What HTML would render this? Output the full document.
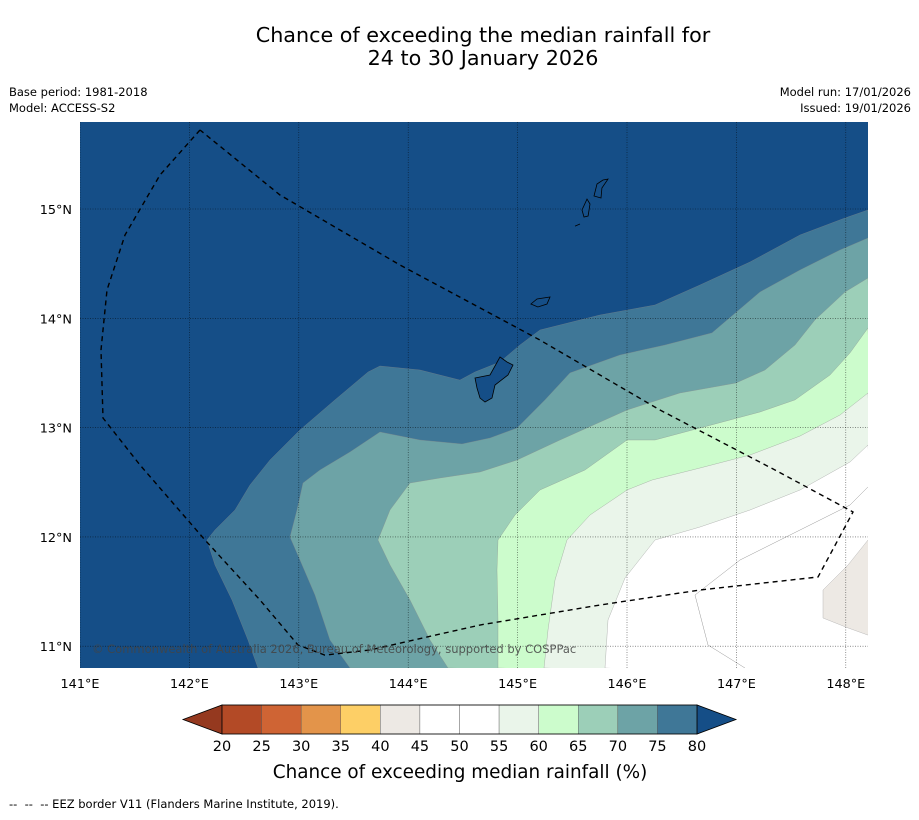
<!DOCTYPE html>
<html><head><meta charset="utf-8"><style>
body{margin:0;background:#fff;font-family:"DejaVu Sans","Liberation Sans",sans-serif}
svg text{font-family:"DejaVu Sans","Liberation Sans",sans-serif}
</style></head><body>
<svg id="c" width="919" height="816" xmlns="http://www.w3.org/2000/svg">
<text x="483" y="42" font-size="20.7" text-anchor="middle">Chance of exceeding the median rainfall for</text>
<text x="483" y="65" font-size="20.7" text-anchor="middle">24 to 30 January 2026</text>
<text x="9" y="96" font-size="11.5">Base period: 1981-2018</text>
<text x="9" y="112" font-size="11.5">Model: ACCESS-S2</text>
<text x="911" y="96" font-size="11.5" text-anchor="end">Model run: 17/01/2026</text>
<text x="911" y="112" font-size="11.5" text-anchor="end">Issued: 19/01/2026</text>
<defs><clipPath id="mc"><rect x="80" y="122" width="788" height="546"/></clipPath></defs>
<g id="map" clip-path="url(#mc)"></g>
<g id="over"></g>
<text x="9" y="808" font-size="11.5">--&#160;&#160;--&#160;&#160;-- EEZ border V11 (Flanders Marine Institute, 2019).</text>
<text x="460" y="778" font-size="18.4" text-anchor="middle">Chance of exceeding median rainfall (%)</text>
</svg>
<script>
const lonTicks=[141,142,143,144,145,146,147,148];
const latTicks=[11,12,13,14,15];
const cbLevels=[20,25,30,35,40,45,50,55,60,65,70,75,80];
const cbColors=["#b34a26","#cf6434","#e3944a","#fdcf66","#ede9e4","#ffffff","#ffffff","#eaf5ea","#ccfccc","#9ccfb8","#6da3a6","#3f7797"];
const contourLevels=[80,75,70,65,60,55];
const contourFill=["#3f7797","#6da3a6","#9ccfb8","#ccfccc","#eaf5ea","#ffffff"];
const X=lon=>80+(lon-141)*109.4;
const Y=lat=>209-(lat-15)*109.3;
const Lx=x=>141+(x-80)/109.4, Ly=y=>15-(y-209)/109.3;
const P=a=>a.map(p=>[+Lx(p[0]).toFixed(3),+Ly(p[1]).toFixed(3)]);
const c80=P([[258,668],[248,640],[232,600],[215,565],[207,540],[215,530],[235,510],[250,485],[270,460],[300,430],[335,400],[368,372],[380,366],[420,370],[460,380],[475,372],[500,362],[520,345],[540,330],[600,315],[655,305],[700,285],[750,262],[800,235],[845,218],[868,210]]);
const c75=P([[350,668],[330,640],[315,595],[300,560],[290,537],[297,510],[303,483],[320,470],[350,452],[380,432],[420,440],[462,444],[490,438],[517,428],[545,400],[570,373],[620,355],[665,345],[712,333],[760,292],[800,270],[840,250],[868,238]]);
const c70=P([[448,668],[430,640],[410,600],[390,565],[378,540],[390,510],[410,483],[440,478],[480,472],[517,460],[560,440],[627,410],[680,393],[736,383],[765,370],[795,345],[815,320],[845,292],[868,278]]);
const c65=P([[498,668],[498,620],[497,570],[498,540],[515,515],[540,490],[585,470],[627,440],[655,440],[700,428],[760,412],[795,400],[830,375],[850,353],[868,328]]);
const c60=P([[544,668],[548,630],[555,580],[567,540],[590,515],[627,490],[652,480],[700,468],[750,455],[800,436],[840,415],[868,393]]);
const c55=P([[605,668],[608,620],[625,578],[655,540],[700,527],[750,510],[800,490],[850,462],[868,445]]);
const contours=[c80,c75,c70,c65,c60,c55];
const c50a=P([[745,668],[708,645],[695,595],[740,560],[800,530],[850,505],[868,487]]);
const c40=P([[868,540],[848,565],[823,590],[823,618],[848,628],[868,635]]);
const eez=P([[200,130],[160,175],[125,235],[107,290],[101,350],[103,418],[140,465],[205,540],[260,600],[298,645],[325,655],[370,650],[480,625],[600,605],[700,590],[818,577],[853,512],[775,470],[660,410],[540,340],[400,265],[280,195],[200,130]]);
const islands=[P([[475,378],[490,375],[500,357],[507,362],[513,365],[508,375],[495,385],[492,398],[485,402],[480,398],[477,388]]),P([[531,304],[537,299],[550,297],[547,304],[538,307]]),P([[582,210],[587,199],[590,204],[588,216],[584,217]]),P([[594,196],[597,184],[603,180],[608,179],[602,188],[601,198]]),P([[575,226],[580,224]])];
const NS="http://www.w3.org/2000/svg";
function el(t,a,p){const e=document.createElementNS(NS,t);for(const k in a)e.setAttribute(k,a[k]);p.appendChild(e);return e;}
const pts=a=>a.map(p=>X(p[0]).toFixed(1)+","+Y(p[1]).toFixed(1)).join(" ");
const map=document.getElementById("map"),over=document.getElementById("over");
let bg=el("rect",{x:80,y:122,width:788,height:546,fill:"#154e87"},map);


contours.forEach((c,i)=>{
 const poly=c.concat([[Lx(880),Ly(680)]]);
 let e=el("polygon",{points:pts(poly),fill:contourFill[i],stroke:"#888",'stroke-width':0.3},map);
 
 
});
let l50=el("polyline",{points:pts(c50a),fill:"none",stroke:"#999",'stroke-width':0.5},map);


let p40=el("polygon",{points:pts(c40.concat([[Lx(880),Ly(640)],[Lx(880),Ly(535)]])),fill:"#ede9e4",stroke:"#aaa",'stroke-width':0.4},map);


lonTicks.forEach(v=>{let g=el("line",{x1:X(v),x2:X(v),y1:122,y2:668,stroke:"#000",'stroke-width':0.6,'stroke-dasharray':"1,1.5",opacity:0.7},map);
 
 let t=el("text",{x:X(v),y:688,'font-size':12.8,'text-anchor':'middle'},over);t.textContent=v+"°E";
 });
latTicks.forEach(v=>{let g=el("line",{x1:80,x2:868,y1:Y(v),y2:Y(v),stroke:"#000",'stroke-width':0.6,'stroke-dasharray':"1,1.5",opacity:0.7},map);
 
 let t=el("text",{x:72,y:Y(v)+5,'font-size':12.8,'text-anchor':'end'},over);t.textContent=v+"°N";
 });
islands.forEach(a=>{let e=el("polygon",{points:pts(a),fill:"#154e87",stroke:"#000",'stroke-width':0.8},map);
 });
let ez=el("polyline",{points:pts(eez),fill:"none",stroke:"#000",'stroke-width':1.4,'stroke-dasharray':"5,4"},map);


let cp=el("text",{x:92,y:653,'font-size':11.5,fill:"#444",opacity:0.85},map);cp.textContent="© Commonwealth of Australia 2026, Bureau of Meteorology, supported by COSPPac";


const cbx0=222,cbx1=697,cby=705,cbh=29,w=(cbx1-cbx0)/cbColors.length;
let lt=el("polygon",{points:`183,${cby+cbh/2} ${cbx0},${cby} ${cbx0},${cby+cbh}`,fill:"#95391f",stroke:"#000",'stroke-width':0.8},over);

let rt=el("polygon",{points:`736,${cby+cbh/2} ${cbx1},${cby} ${cbx1},${cby+cbh}`,fill:"#154e87",stroke:"#000",'stroke-width':0.8},over);

cbColors.forEach((c,i)=>{let r=el("rect",{x:cbx0+i*w,y:cby,width:w,height:cbh,fill:c,stroke:"#555",'stroke-width':0.4},over);
 });
let fr=el("rect",{x:cbx0,y:cby,width:cbx1-cbx0,height:cbh,fill:"none",stroke:"#000",'stroke-width':0.8},over);

cbLevels.forEach((v,i)=>{let t=el("text",{x:cbx0+i*w,y:751,'font-size':14.5,'text-anchor':'middle'},over);t.textContent=v;
 });
</script>
</body></html>
